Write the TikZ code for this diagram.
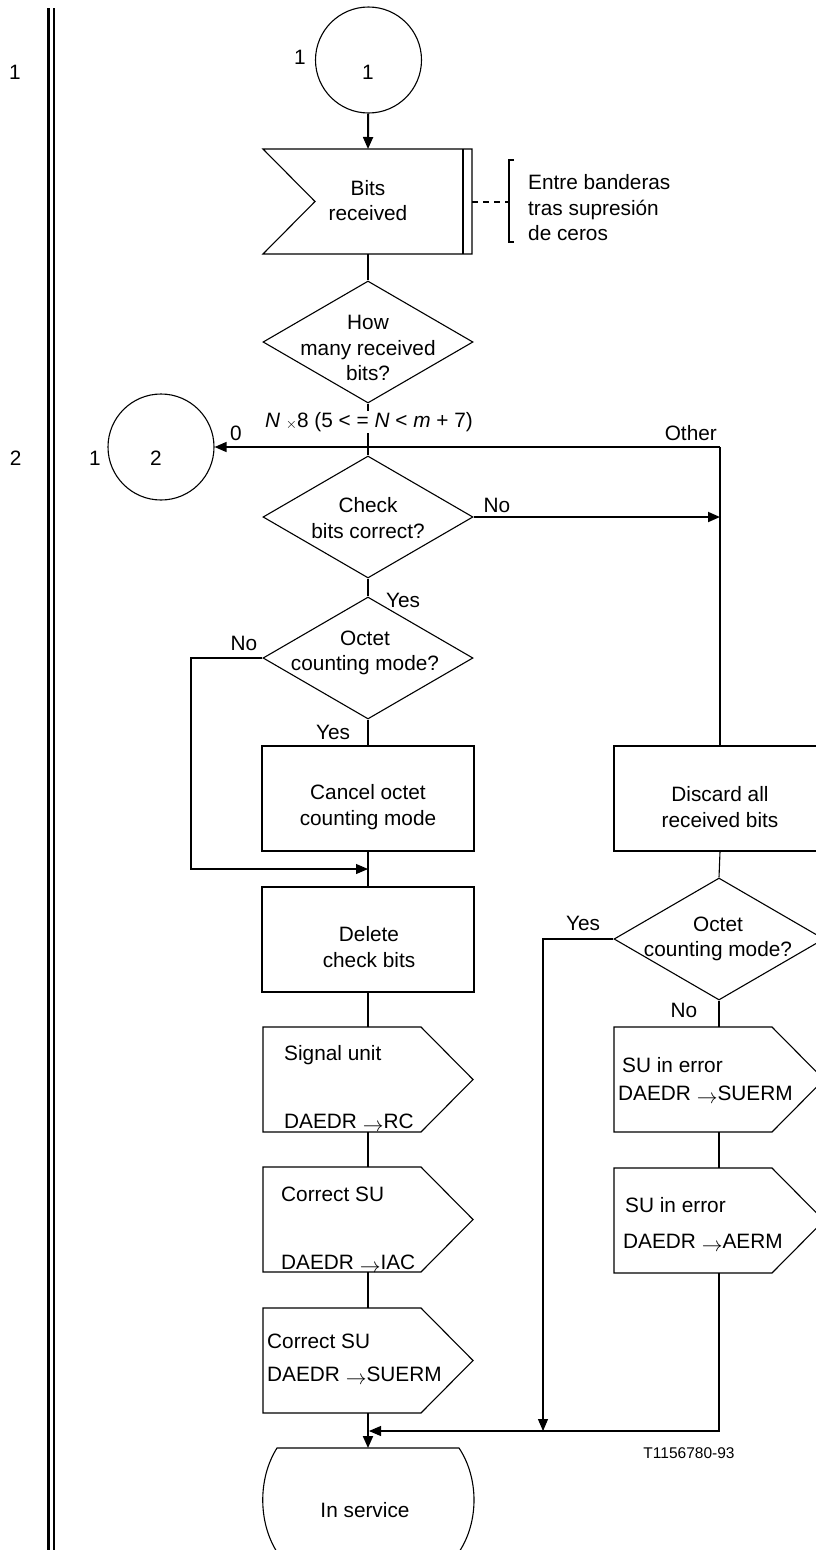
\documentclass[tikz,border=0pt]{standalone}
\usepackage{fontspec}
\setmainfont{Liberation Sans}
\usetikzlibrary{arrows.meta,shapes.geometric,calc}
\newcommand{\myarr}{\raisebox{-0.3ex}{\fontsize{21}{21}\selectfont$\rightarrow$}}
\newcommand{\sigshape}[3]{%
  \draw[thinline] (#2,#3) -- ++(158,0) -- ++(52,52.5) -- ++(-52,52.5) -- ++(-158,0) -- cycle;
  \coordinate (#1n) at ($(#2,#3)+(105,0)$);
  \coordinate (#1s) at ($(#2,#3)+(105,105)$);}
\begin{document}
\begin{tikzpicture}[x=1pt,y=-1pt,
  thinline/.style={line width=1.1pt},
  medline/.style={line width=1.4pt},
  flow/.style={line width=1.9pt},
  arr/.style={-{Triangle[length=12pt,width=10pt]}},
  box/.style={draw,line width=1.1pt,minimum width=212pt,minimum height=105pt,inner sep=0pt},
  dia/.style={draw,diamond,line width=1.1pt,minimum width=210pt,minimum height=122pt,inner sep=0pt},
  conn/.style={draw,circle,line width=1.1pt,minimum size=106pt,inner sep=0pt},
  txt/.style={inner sep=0pt,align=center,font=\fontsize{20.8}{25.5}\selectfont},
  ltxt/.style={inner sep=0pt,anchor=base west,font=\fontsize{20.8}{25.5}\selectfont}]
\useasboundingbox (0,0) rectangle (816,1550);
\clip (0,0) rectangle (816,1550);
% left margin
\draw[line width=2.4pt] (48.5,8) -- (48.5,1552);
\draw[line width=2.4pt] (54,8) -- (54,1552);
\node[txt] (lab1) at (15,72) {1};
\node[txt] (lab2) at (15.6,458) {2};
% connector 1
\node[conn] (c1) at (368.5,60) {};
\node[txt] (c1in) at (368,72) {1};
\node[txt] (c1out) at (300,57) {1};
% bits received
\coordinate (bt) at (368,149);
\coordinate (bb) at (368,254);
\draw[thinline] (263,149) -- (472,149) -- (472,254) -- (263,254) -- (315,201.5) -- cycle;
\draw[line width=2pt] (463,149) -- (463,254);
\node[txt] (bits) at (368,200.5) {Bits\\received};
\draw[flow,arr] (c1) -- (bt);
\coordinate (be) at (472,202);
\coordinate (brk) at (509,202);
\draw[line width=1.6pt,dash pattern=on 6pt off 5pt] (be) -- (brk);
\draw[line width=2pt] (514,160) -| (509,242) -- (514,242);
\node[txt,anchor=west,align=left] (note) at (528,208) {Entre banderas\\tras supresión\\de ceros};
% how many
\node[dia] (how) at (368,342) {};
\node[txt] (howt) at (368,348) {How\\many received\\bits?};
\draw[flow] (bb) -- (how.north);
\coordinate (j1) at (368,447);
\draw[flow] (how.south) -- (j1);
\node[txt,fill=white,inner sep=1pt] (nlab) at (369,422) {\textit{N} \raisebox{-0.1ex}{\fontsize{15}{15}\selectfont$\times$}8 (5 < = \textit{N} < \textit{m} + 7)};
% connector 2
\node[conn] (c2) at (161,447) {};
\node[txt] (c2in) at (156,458) {2};
\node[txt] (c2out) at (95,458) {1};
\coordinate (rtop) at (720,447);
\draw[medline,arr] (rtop) -- (c2);
\node[txt] (l0) at (236,433) {0};
\node[txt,anchor=east] (lother) at (717,433) {Other};
% check bits
\node[dia] (chk) at (368,517) {};
\node[txt] (chkt) at (368,518) {Check\\bits correct?};
\draw[flow] (j1) -- (chk.north);
\node[txt] (lno1) at (497,505) {No};
\coordinate (rno) at (720,517);
\draw[flow,arr] (chk.east) -- (rno);
% octet 1
\node[dia] (oct1) at (368,658) {};
\node[txt] (oct1t) at (365,653) {Octet\\counting mode?};
\draw[flow] (chk.south) -- (oct1.north);
\node[txt] (lyes1) at (403,600) {Yes};
\node[txt] (lno2) at (244,643) {No};
\coordinate (j2) at (368,869);
\draw[thinline,arr] (oct1.west) -| (191,869) -- (j2);
\node[txt] (lyes2) at (333,732) {Yes};
% cancel
\node[box] (cancel) at (368,798.5) {};
\node[txt] (cancelt) at (368,807) {Cancel octet\\counting mode};
\draw[flow] (oct1.south) -- (cancel.north);
% delete
\node[box] (del) at (368,939.5) {};
\node[txt] (delt) at (369,947) {Delete\\check bits};
\draw[flow] (cancel.south) -- (del.north);
% outputs left
\sigshape{su}{263}{1027}
\node[ltxt] (sut1) at (284,1060.5) {Signal unit};
\node[ltxt] (sut2) at (284,1128.5) {DAEDR \myarr RC};
\sigshape{iac}{263}{1167}
\node[ltxt] (iact1) at (281,1201.5) {Correct SU};
\node[ltxt] (iact2) at (281,1269.5) {DAEDR \myarr IAC};
\sigshape{suerm}{263}{1308}
\node[ltxt] (suermt1) at (267,1348.5) {Correct SU};
\node[ltxt] (suermt2) at (267,1381.5) {DAEDR \myarr SUERM};
\draw[flow] (del.south) -- (sun);
\draw[flow] (sus) -- (iacn);
\draw[flow] (iacs) -- (suermn);
% right column
\node[box] (disc) at (720,798.5) {};
\node[txt] (disct) at (720,807) {Discard all\\received bits};
\draw[thinline] (rtop) -- (disc.north);
\node[dia] (oct2) at (719,939) {};
\node[txt] (oct2t) at (718,939) {Octet\\counting mode?};
\draw[thinline] (disc.south) -- (oct2.north);
\node[txt] (lyes3) at (583,923) {Yes};
\node[txt] (lno3) at (684,1010) {No};
\coordinate (jy) at (543,1431);
\draw[thinline,arr] (oct2.west) -| (jy);
\sigshape{er1}{614}{1027}
\node[ltxt] (er1t1) at (622,1072.5) {SU in error};
\node[ltxt] (er1t2) at (618,1100.5) {DAEDR \myarr SUERM};
\sigshape{er2}{614}{1168}
\node[ltxt] (er2t1) at (625,1212.5) {SU in error};
\node[ltxt] (er2t2) at (623,1248.5) {DAEDR \myarr AERM};
\draw[thinline] (oct2.south) -- (er1n);
\draw[thinline] (er1s) -- (er2n);
\coordinate (j3) at (369,1431);
\draw[thinline,arr] (er2s) |- (j3);
% in service
\coordinate (inst) at (368,1448);
\draw[thinline] (277,1448) -- (459,1448) .. controls (479,1478) and (479,1522) .. (459,1552) -- (277,1552) .. controls (258,1522) and (258,1478) .. (277,1448) -- cycle;
\node[txt] (inserv) at (365,1510) {In service};
\draw[flow,arr] (suerms) -- (inst);
\node[inner sep=0pt,font=\fontsize{15.5}{18}\selectfont] (tcode) at (689,1453) {T1156780-93};
\end{tikzpicture}
\end{document}
